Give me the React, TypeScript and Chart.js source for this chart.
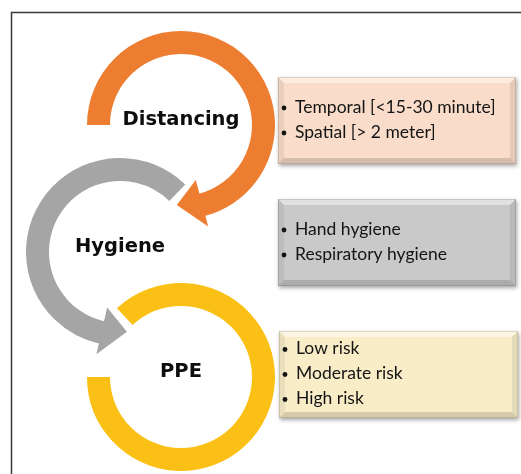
import React, { useEffect, useRef } from "react";
import { Chart, registerables } from "chart.js";

Chart.register(...registerables);

// ---- content (data) ----
const STAGES = ["Distancing", "Hygiene", "PPE"];
const ARC_START_DEG = [180, 314, 227];
const ARC_END_DEG = [435, 103, 540];
const ARROW_TIP_DEG = [453, 85, NaN];
const DISTANCING_ITEMS = ["Temporal [<15-30 minute]", "Spatial [> 2 meter]"];
const HYGIENE_ITEMS = ["Hand hygiene", "Respiratory hygiene"];
const PPE_ITEMS = ["Low risk", "Moderate risk", "High risk"];

// ---- layout & style ----
const W = 521;
const H = 474;
const CENTERS = [
  [181, 125],
  [120, 252],
  [181, 377],
];
const R_OUT = 94;
const R_IN = 71;
const ARROW_IN = 57;
const ARROW_OUT = 105;
const ARROW_TIP_R = 80;
const RING_COLORS = ["#ED7D31", "#A5A5A5", "#FBC015"];
const BOXES = [
  { x: 278, y: 77, w: 238, h: 87, fill: "#F9DCCA", items: DISTANCING_ITEMS },
  { x: 278, y: 199, w: 238, h: 87, fill: "#C9C9C9", items: HYGIENE_ITEMS },
  { x: 279, y: 331, w: 239, h: 87, fill: "#F9EDC8", items: PPE_ITEMS },
];
const DRAW_ORDER = [2, 1, 0];

const rad = (d: number) => (d * Math.PI) / 180;

const diagramPlugin = {
  id: "diagram",
  afterDraw(chart: any) {
    const ctx = chart.ctx as CanvasRenderingContext2D;
    const xs = chart.scales.x;
    const ys = chart.scales.y;
    const px = (v: number) => xs.getPixelForValue(v);
    const py = (v: number) => ys.getPixelForValue(v);
    const pr = (r: number) => xs.getPixelForValue(r) - xs.getPixelForValue(0);

    ctx.save();
    // frame
    ctx.strokeStyle = "#3a3a3a";
    ctx.lineWidth = 1.5;
    ctx.beginPath();
    ctx.moveTo(px(11.5), py(H));
    ctx.lineTo(px(11.5), py(12.5));
    ctx.lineTo(px(W), py(12.5));
    ctx.stroke();

    // rings
    DRAW_ORDER.forEach((i) => {
      const cx = px(CENTERS[i][0]);
      const cy = py(CENTERS[i][1]);
      const a0 = rad(ARC_START_DEG[i]);
      const a1 = rad(ARC_END_DEG[i]);
      const ccw = ARC_END_DEG[i] < ARC_START_DEG[i];
      const rO = pr(R_OUT);
      const rI = pr(R_IN);
      ctx.beginPath();
      ctx.arc(cx, cy, rO, a0, a1, ccw);
      const tip = ARROW_TIP_DEG[i];
      if (!isNaN(tip)) {
        const at = rad(tip);
        ctx.lineTo(cx + pr(ARROW_OUT) * Math.cos(a1), cy + pr(ARROW_OUT) * Math.sin(a1));
        ctx.lineTo(cx + pr(ARROW_TIP_R) * Math.cos(at), cy + pr(ARROW_TIP_R) * Math.sin(at));
        ctx.lineTo(cx + pr(ARROW_IN) * Math.cos(a1), cy + pr(ARROW_IN) * Math.sin(a1));
      }
      ctx.arc(cx, cy, rI, a1, a0, !ccw);
      ctx.closePath();
      ctx.strokeStyle = "#ffffff";
      ctx.lineWidth = 6;
      ctx.lineJoin = "miter";
      ctx.stroke();
      ctx.fillStyle = RING_COLORS[i];
      ctx.fill();
    });

    // stage labels
    ctx.fillStyle = "#0d0d0d";
    ctx.textAlign = "center";
    ctx.textBaseline = "middle";
    ctx.font = "bold 19.5px 'DejaVu Sans', Lato, sans-serif";
    STAGES.forEach((s, i) => {
      ctx.fillText(s, px(CENTERS[i][0]), py(CENTERS[i][1] - 5));
    });

    // boxes
    BOXES.forEach((b) => {
      const x = px(b.x);
      const y = py(b.y);
      const w = px(b.x + b.w) - x;
      const h = py(b.y + b.h) - y;
      ctx.save();
      ctx.shadowColor = "rgba(0,0,0,0.35)";
      ctx.shadowBlur = 4;
      ctx.shadowOffsetX = 1;
      ctx.shadowOffsetY = 2;
      ctx.fillStyle = b.fill;
      ctx.fillRect(x, y, w, h);
      ctx.restore();
      const bv = 6;
      const bevel = (pts: number[][], color: string) => {
        ctx.beginPath();
        ctx.moveTo(pts[0][0], pts[0][1]);
        for (let k = 1; k < pts.length; k++) ctx.lineTo(pts[k][0], pts[k][1]);
        ctx.closePath();
        ctx.fillStyle = color;
        ctx.fill();
      };
      bevel([[x, y], [x + w, y], [x + w - bv, y + bv], [x + bv, y + bv]], "rgba(255,255,255,0.45)");
      bevel([[x, y], [x + bv, y + bv], [x + bv, y + h - bv], [x, y + h]], "rgba(0,0,0,0.06)");
      bevel([[x + w, y], [x + w, y + h], [x + w - bv, y + h - bv], [x + w - bv, y + bv]], "rgba(0,0,0,0.08)");
      bevel([[x, y + h], [x + bv, y + h - bv], [x + w - bv, y + h - bv], [x + w, y + h]], "rgba(0,0,0,0.14)");
      ctx.strokeStyle = "rgba(0,0,0,0.12)";
      ctx.lineWidth = 1;
      ctx.strokeRect(x + 0.5, y + 0.5, w - 1, h - 1);

      ctx.fillStyle = "#141414";
      ctx.textAlign = "left";
      ctx.textBaseline = "middle";
      ctx.font = "17.5px Lato, 'DejaVu Sans', sans-serif";
      const n = b.items.length;
      const midY = b.y + b.h / 2 - 1;
      b.items.forEach((t, k) => {
        const ty = py(midY + (k - (n - 1) / 2) * 25);
        ctx.beginPath();
        ctx.arc(px(b.x + 6), ty + 1, 2.4, 0, Math.PI * 2);
        ctx.fill();
        ctx.fillText(t, px(b.x + 17), ty);
      });
    });
    ctx.restore();
  },
};

export default function App() {
  const ref = useRef<HTMLCanvasElement | null>(null);
  useEffect(() => {
    if (!ref.current) return;
    const chart = new Chart(ref.current, {
      type: "scatter",
      data: { datasets: [] },
      options: {
        animation: false,
        responsive: false,
        devicePixelRatio: 1,
        layout: { padding: 0 },
        plugins: { legend: { display: false }, tooltip: { enabled: false } },
        scales: {
          x: { type: "linear", min: 0, max: W, display: false },
          y: { type: "linear", min: 0, max: H, reverse: true, display: false },
        },
      },
      plugins: [diagramPlugin],
    });
    return () => chart.destroy();
  }, []);
  return (
    <div style={{ position: "absolute", left: 0, top: 0, width: W, height: H, background: "#fff" }}>
      <canvas ref={ref} width={W} height={H} style={{ display: "block" }} />
    </div>
  );
}
